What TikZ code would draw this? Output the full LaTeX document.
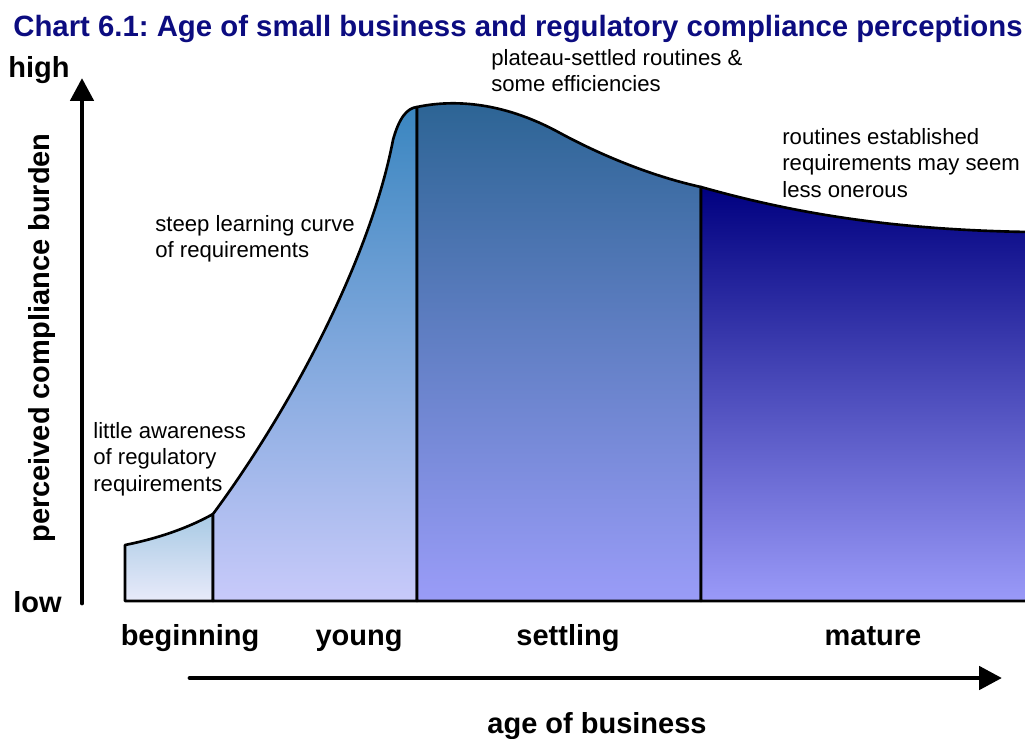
\documentclass[tikz,border=0pt]{standalone}
\usepackage{fontspec}
\setmainfont{Liberation Sans}
\usetikzlibrary{arrows.meta}
\frenchspacing

\definecolor{titleblue}{RGB}{12,12,128}
\definecolor{begtop}{RGB}{168,202,228}
\definecolor{begbot}{RGB}{232,234,250}
\definecolor{youngtop}{RGB}{58,134,192}
\definecolor{youngbot}{RGB}{200,202,250}
\definecolor{settop}{RGB}{44,100,148}
\definecolor{setbot}{RGB}{154,156,248}
\definecolor{mattop}{RGB}{0,0,128}
\definecolor{matbot}{RGB}{154,154,248}

\tikzset{
	stage/.style={draw=black, line width=1.5pt, line join=round},
	note/.style={anchor=north west, inner sep=0pt, align=left, font=\fontsize{12.6}{15}\selectfont},
	axislabel/.style={inner sep=0pt, font=\fontsize{16.5}{19}\bfseries\selectfont},
	axisline/.style={line width=2.8pt, line cap=round, -{Triangle[length=13pt,width=13pt]}}
}

\begin{document}
\begin{tikzpicture}[x=0.02cm, y=-0.02cm]
		\useasboundingbox (0,0) rectangle (1025,738);
		\clip (0,0) rectangle (1025,738);
		
		% stages of the curve
		\coordinate (b1) at (125,545);
		\coordinate (b2) at (213,514);
		\coordinate (y2) at (417,107);
		\coordinate (s2) at (701,187);
		\coordinate (m2) at (1030,232);
		\draw[stage, top color=begtop, bottom color=begbot] (125,601) -- (b1) .. controls (160,538) and (190,527) .. (b2) -- (213,601) -- cycle;
		\draw[stage, top color=youngtop, bottom color=youngbot] (213,601) -- (b2) .. controls (290,410) and (370,260) .. (393,140) .. controls (399,118) and (407,108) .. (y2) -- (417,601) -- cycle;
		\draw[stage, top color=settop, bottom color=setbot] (417,601) -- (y2) .. controls (450,100) and (500,100) .. (560,133) .. controls (610,160) and (660,178) .. (s2) -- (701,601) -- cycle;
		\draw[stage, top color=mattop, bottom color=matbot] (701,601) -- (s2) .. controls (800,215) and (900,230) .. (m2) -- (1030,601) -- cycle;
		
		% axes
		\coordinate (ybot) at (82,603);
		\coordinate (ytop) at (82,78);
		\coordinate (xleft) at (190,678);
		\coordinate (xright) at (1002,678);
		\draw[axisline] (ybot) -- (ytop);
		\draw[axisline] (xleft) -- (xright);
		
		\node[font=\fontsize{16.7}{19}\bfseries\selectfont, text=titleblue, anchor=base west, inner sep=0pt] (title) at (13,36) {Chart 6.1: Age of small business and regulatory compliance perceptions};
		\node[axislabel, anchor=base west] (high) at (8,77) {high};
		\node[axislabel, anchor=base west] (low) at (13,612) {low};
		\node[axislabel, rotate=90] (burden) at (42,338) {perceived compliance burden};
		\node[axislabel, anchor=base] (age) at (597,733) {age of business};
		\foreach \x/\stagename in {190/beginning, 359/young, 568/settling, 873/mature}
			\node[axislabel, anchor=base] (\stagename) at (\x,645) {\stagename};
		
		% notes
		\node[note] (aware) at (93,422) {little awareness\\of regulatory\\requirements};
		\node[note] (steep) at (155,215) {steep learning curve\\of requirements};
		\node[note] (plateau) at (491,49) {plateau-settled routines \&\\some efficiencies};
		\node[note] (routines) at (782,128) {routines established\\requirements may seem\\less onerous};
		
	\end{tikzpicture}
\end{document}
